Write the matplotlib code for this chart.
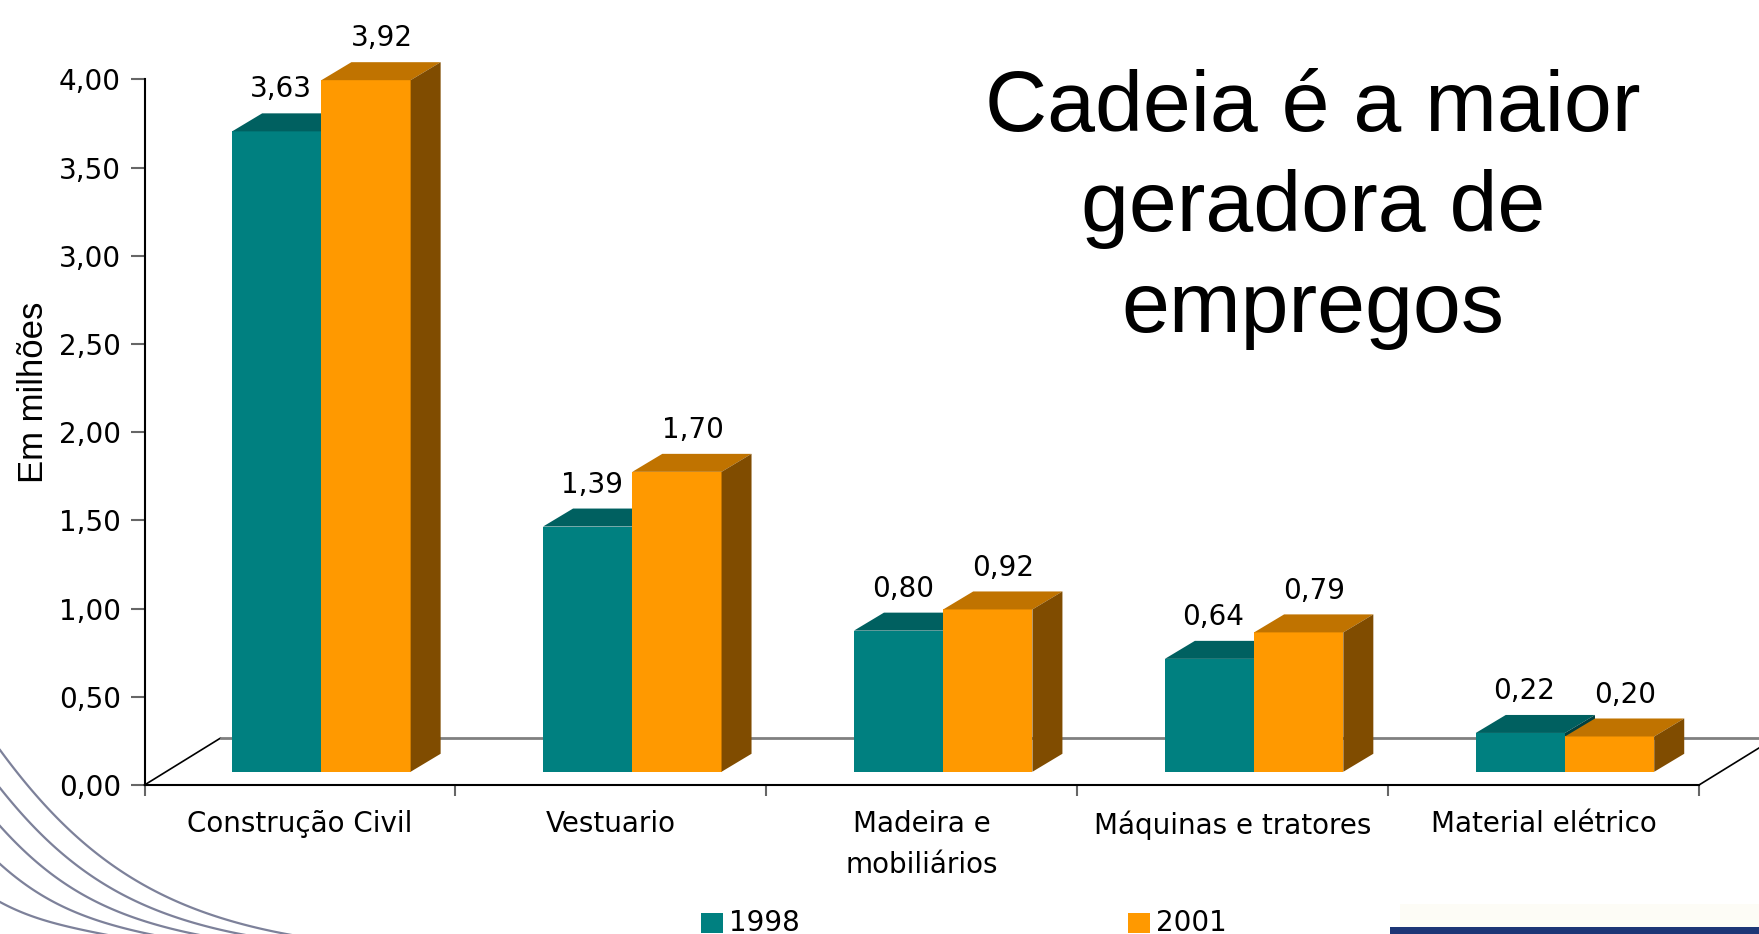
import numpy as np
import matplotlib
matplotlib.use('Agg')
import matplotlib.pyplot as plt
from matplotlib.patches import Polygon, Rectangle

# Data
categories = ["Construção Civil", "Vestuario", "Madeira e\nmobiliários",
              "Máquinas e tratores", "Material elétrico"]
years = ["1998", "2001"]
emp_1998 = [3.63, 1.39, 0.80, 0.64, 0.22]
emp_2001 = [3.92, 1.70, 0.92, 0.79, 0.20]
yticks = np.arange(0, 4.01, 0.5)

# colours: front, top, side
teal = ('#008080', '#006060', '#004040')
orange = ('#FF9900', '#C07300', '#804C00')


def fmt(v):
    return f"{v:.2f}".replace('.', ',')


W, H = 1759, 934
fig = plt.figure(figsize=(W / 100, H / 100), dpi=100)

# background layer in pixel coords (decoration + legend)
bg = fig.add_axes([0, 0, 1, 1], zorder=0)
bg.set_xlim(0, W)
bg.set_ylim(H, 0)
bg.axis('off')

# swoosh lines bottom-left
t = np.linspace(0, 1, 120)[:, None]
for k in range(6):
    yl = 750 + 38 * k
    xb = 270 - 38 * k
    p0 = np.array([0, yl])
    p1 = np.array([0.35 * xb, yl + 0.7 * (H - yl)])
    p2 = np.array([0.7 * xb, H - 4])
    p3 = np.array([1.4 * xb, H + 12])
    pts = (1 - t) ** 3 * p0 + 3 * (1 - t) ** 2 * t * p1 + 3 * (1 - t) * t ** 2 * p2 + t ** 3 * p3
    bg.plot(pts[:, 0], pts[:, 1], color='#666b88', lw=1.6, alpha=0.85)

# strip bottom-right
bg.add_patch(Rectangle((1400, 904), W - 1400, 23, color='#fdfcf6', lw=0))
bg.add_patch(Rectangle((1390, 927), W - 1390, 8, color='#1d3676', lw=0))

# main axes
ax = fig.add_axes([144.5 / W, (H - 785) / H, (1699 - 144.5) / W, (785 - 79.3) / H], zorder=1)
ax.patch.set_alpha(0)
ax.set_xlim(0, 5)
ax.set_ylim(0, 4)

bw = 0.287                    # bar width
lift_x, lift_y = 0.069, 0.075  # bars sit a bit behind the floor front edge
dep_x, dep_y = 0.0965, 0.102   # bar depth
floor_x, floor_y = 0.2445, 0.266

# floor
ax.plot([0, floor_x], [0, floor_y], color='black', lw=1.2, clip_on=False)
ax.plot([5, 5 + floor_x], [0, floor_y], color='black', lw=1.2, clip_on=False)
ax.plot([floor_x, 5 + floor_x], [floor_y, floor_y], color='#808080', lw=2, clip_on=False)

x = np.arange(len(categories)) + 0.5
for vals, cols, off, lab_dx in [(emp_1998, teal, -bw / 2, 0.013), (emp_2001, orange, bw / 2, 0.05)]:
    bars = ax.bar(x + off + lift_x, vals, width=bw, bottom=lift_y,
                  color=cols[0], clip_on=False, zorder=3)
    for b, v in zip(bars, vals):
        x0 = b.get_x()
        x1 = x0 + b.get_width()
        y1 = lift_y + v
        ax.add_patch(Polygon([(x0, y1), (x0 + dep_x, y1 + dep_y), (x1 + dep_x, y1 + dep_y), (x1, y1)],
                             closed=True, color=cols[1], lw=0, clip_on=False, zorder=3))
        ax.add_patch(Polygon([(x1, lift_y), (x1 + dep_x, lift_y + dep_y), (x1 + dep_x, y1 + dep_y), (x1, y1)],
                             closed=True, color=cols[2], lw=0, clip_on=False, zorder=3))
        ax.text((x0 + x1) / 2 + lab_dx, y1 + dep_y + 0.09, fmt(v),
                ha='center', va='baseline', fontsize=20, zorder=4)

# axes styling
for s in ['top', 'right']:
    ax.spines[s].set_visible(False)
ax.spines['left'].set_linewidth(1.5)
ax.spines['bottom'].set_linewidth(1.5)

ax.set_yticks(yticks)
ax.set_yticklabels([fmt(v) for v in yticks])
ax.tick_params(axis='y', direction='out', length=10, width=1.5, color='#666666',
               pad=7, labelsize=20)

ax.set_xticks(np.arange(0, 6))
ax.set_xticklabels([])
ax.set_xticks(x, minor=True)
ax.set_xticklabels(categories, minor=True, fontsize=20, linespacing=1.6)
ax.tick_params(axis='x', which='major', direction='out', length=8, width=1.5, color='#666666')
ax.tick_params(axis='x', which='minor', length=0, pad=18)

# y label and title
fig.text(34 / W, 1 - 392 / H, "Em milhões", rotation=90, ha='center', va='center',
         fontsize=25, family='Liberation Sans')
fig.text(1313 / W, 1 - 69 / H, "Cadeia é a maior\ngeradora de\nempregos",
         ha='center', va='top', multialignment='center',
         fontsize=62, family='Liberation Sans', linespacing=1.33)

# legend
for lx, yr, cols in zip([701, 1128], years, [teal, orange]):
    bg.add_patch(Rectangle((lx, 913), 22.5, 20, color=cols[0], lw=0))
    bg.text(lx + 28, 931, yr, ha='left', va='baseline', fontsize=20)

fig.savefig('out.png', dpi=100)
